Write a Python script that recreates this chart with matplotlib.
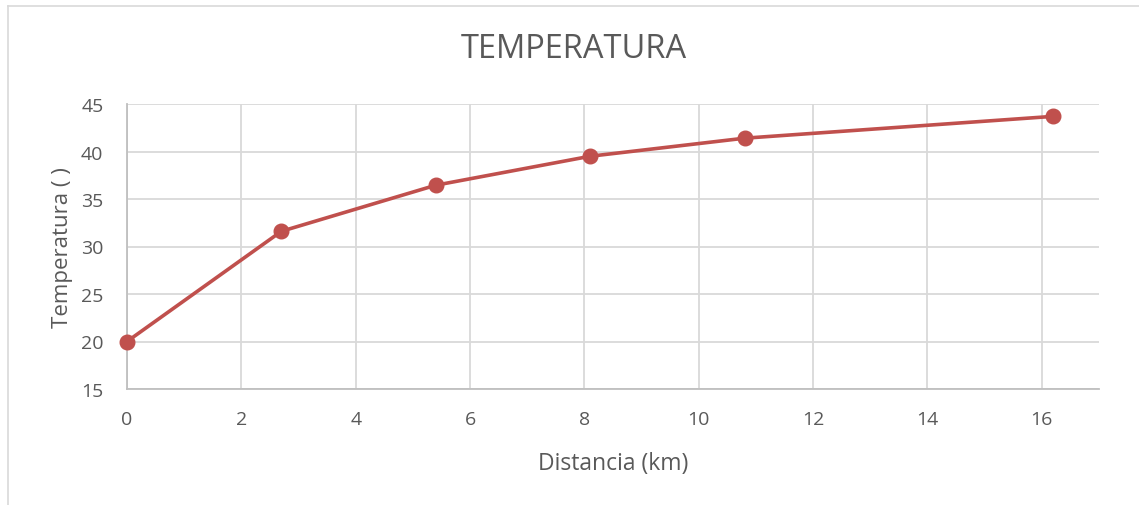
import matplotlib
matplotlib.use("Agg")
import matplotlib.pyplot as plt
from matplotlib.lines import Line2D

# Data
distancia_km = [0, 2.7, 5.4, 8.1, 10.8, 16.2]
temperatura = [20.0, 31.6, 36.45, 39.5, 41.4, 43.7]
x_ticks = [0, 2, 4, 6, 8, 10, 12, 14, 16]
y_ticks = [15, 20, 25, 30, 35, 40, 45]

plt.rcParams['font.family'] = ['Open Sans', 'DejaVu Sans']
text_color = '#595959'
grid_color = '#D9D9D9'
line_color = '#C0504D'

W, H = 1139, 506
fig = plt.figure(figsize=(W / 100, H / 100), dpi=100)
fig.patch.set_facecolor('white')

# Chart-area border (top and left edges)
bx, by = 7.5 / W, 1 - 6.5 / H
fig.add_artist(Line2D([bx, 1.0], [by, by], transform=fig.transFigure,
                      color='#D9D9D9', linewidth=1.2))
fig.add_artist(Line2D([bx, bx], [0.0, by], transform=fig.transFigure,
                      color='#D9D9D9', linewidth=1.2))

left, right, top, bottom = 127, 1099, 105, 390
ax = fig.add_axes([left / W, 1 - bottom / H, (right - left) / W, (bottom - top) / H])

ax.plot(distancia_km, temperatura, color=line_color, linewidth=2.6,
        marker='o', markersize=10.5, zorder=3, clip_on=False)

ax.set_xlim(0, 17)
ax.set_ylim(15, 45)
ax.set_xticks(x_ticks)
ax.set_yticks(y_ticks)
ax.grid(True, color=grid_color, linewidth=1.3)
ax.set_axisbelow(True)

for s in ['top', 'right']:
    ax.spines[s].set_visible(False)
for s in ['left', 'bottom']:
    ax.spines[s].set_color('#BFBFBF')
    ax.spines[s].set_linewidth(1.3)

ax.tick_params(length=0, labelsize=14, labelcolor=text_color)
ax.tick_params(axis='y', pad=17)
ax.tick_params(axis='x', pad=15)

ax.set_xlabel('Distancia (km)', fontsize=16.5, color=text_color, labelpad=17)
ax.set_ylabel('Temperatura ( )', fontsize=16, color=text_color, labelpad=6)
fig.text(574 / W, 1 - 50 / H, 'TEMPERATURA', ha='center', va='center',
         fontsize=23.5, color=text_color)

fig.savefig('out.png', dpi=100, facecolor='white')
